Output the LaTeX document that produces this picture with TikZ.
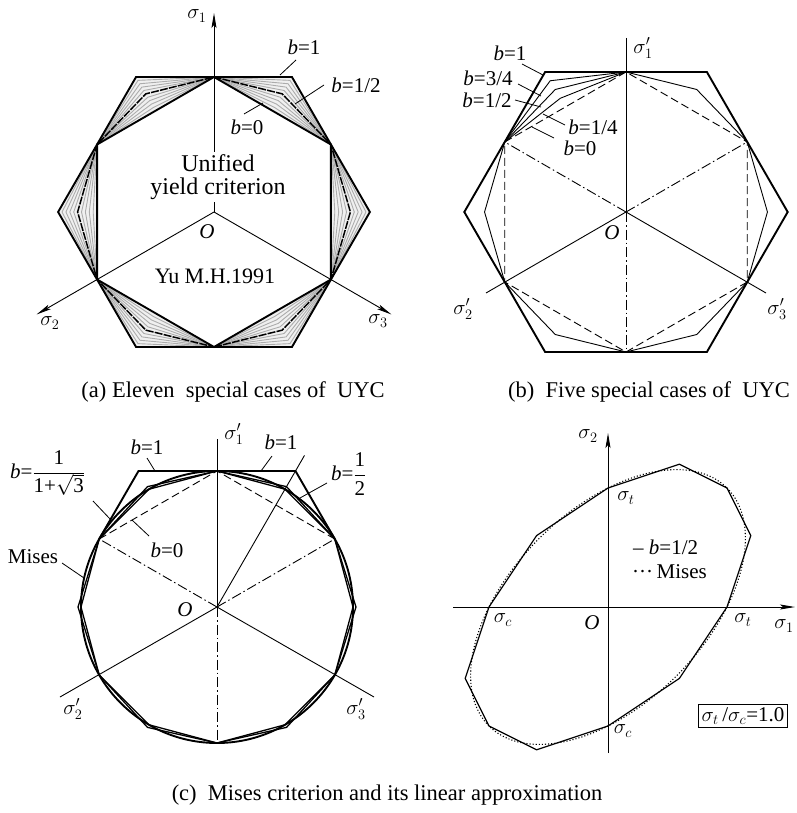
\documentclass[tikz,border=0pt]{standalone}
\usepackage{fontspec}
\setmainfont{Liberation Serif}
\usetikzlibrary{arrows.meta}
\newcommand{\bi}{\textit{b}}
\newcommand{\dodec}[4]{\draw[#1,shift={#2}] (90:#3) -- (60:{#4}) -- (30:#3) -- (0:{#4}) -- (-30:#3) -- (-60:{#4}) -- (-90:#3) -- (-120:{#4}) -- (-150:#3) -- (180:{#4}) -- (150:#3) -- (120:{#4}) -- cycle;}
\newcommand{\hexv}[3]{\draw[#1,shift={#2}] (0:#3) -- (60:#3) -- (120:#3) -- (180:#3) -- (240:#3) -- (300:#3) -- cycle;}
\newcommand{\hext}[3]{\draw[#1,shift={#2}] (90:#3) -- (30:#3) -- (-30:#3) -- (-90:#3) -- (-150:#3) -- (150:#3) -- cycle;}
\begin{document}
\begin{tikzpicture}[x=1pt,y=-1pt,font=\fontsize{21}{24}\selectfont,
  thinl/.style={line width=0.9pt},
  medl/.style={line width=1.3pt},
  thickl/.style={line width=1.9pt},
  ax/.style={line width=0.9pt},
  arr/.style={-{Stealth[length=15pt,width=5pt,inset=3pt]}},
  dashl/.style={line width=0.9pt,dash pattern=on 8pt off 4pt},
  dashdot/.style={line width=0.9pt,dash pattern=on 10pt off 3pt on 1.5pt off 3pt},
  lead/.style={line width=0.8pt},
  lbl/.style={inner sep=0pt},
  captxt/.style={inner sep=0pt,font=\fontsize{22.5}{25}\selectfont}]
\useasboundingbox (0,0) rectangle (796,813);
% ================= panel (a) =================
\coordinate (Oa) at (214,212);
\coordinate (a1) at (214,13);
\coordinate (a2) at (36.5,314.5);
\coordinate (a3) at (391.5,314.5);
\fill[gray!12,even odd rule,shift={(214,212)}] (0:155.9) -- (60:155.9) -- (120:155.9) -- (180:155.9) -- (240:155.9) -- (300:155.9) -- cycle
  (90:135) -- (30:135) -- (-30:135) -- (-90:135) -- (-150:135) -- (150:135) -- cycle;
\foreach \b in {0.1,0.2,0.3,0.4,0.6,0.7,0.8,0.9}{\dodec{line width=0.9pt,gray!65}{(214,212)}{135}{135*(0.8660+0.2887*\b)}}
\dodec{line width=1.5pt,dash pattern=on 8pt off 1.2pt}{(214,212)}{135}{135*(0.8660+0.2887*0.5)}
\hext{thickl}{(214,212)}{135}
\hexv{thickl}{(214,212)}{155.9}
\draw[ax,arr] (Oa) -- (a1);
\draw[ax,arr] (Oa) -- (a2);
\draw[ax,arr] (Oa) -- (a3);
\node[lbl,fill=white,inner sep=2pt,align=center,font=\fontsize{24}{23}\selectfont] (uyc) at (218,177) {Unified\\yield criterion};
\node[lbl] (sa1) at (197,16) {$\sigma_1$};
\node[lbl] (sa2) at (50,323) {$\sigma_2$};
\node[lbl] (sa3) at (378,321) {$\sigma_3$};
\node[lbl] (Oalab) at (207,232) {\textit{O}};
\node[lbl,font=\fontsize{22}{24}\selectfont] (yu) at (215,276) {Yu M.H.1991};
\node[lbl] (ba1) at (304,47) {\bi=1};
\node[lbl] (ba2) at (356,85) {\bi=1/2};
\node[lbl] (ba0) at (247,127) {\bi=0};
\coordinate (la1s) at (280,75); \coordinate (la1e) at (296,60);
\coordinate (la2s) at (295,104); \coordinate (la2e) at (324,85);
\coordinate (la0s) at (263,103); \coordinate (la0e) at (244,114);
\draw[lead] (la1s) -- (la1e);
\draw[lead] (la2s) -- (la2e);
\draw[lead] (la0s) -- (la0e);
\node[captxt] (capa) at (233,392) {(a) Eleven \ special cases of \ UYC};
% ================= panel (b) =================
\coordinate (Ob) at (626,212);
\coordinate (b1) at (626,38);
\coordinate (b2) at (486,293);
\coordinate (b3) at (766,293);
\coordinate (bTL) at (504.8,142);
\coordinate (bTR) at (747.2,142);
\coordinate (bB) at (626,352);
\hexv{thickl}{(626,212)}{161.7}
\hext{dashl}{(626,212)}{140}
\dodec{thinl}{(626,212)}{140}{140*(0.8660+0.2887*0.5)}
\draw[thinl,shift={(626,212)}] (-90:140) -- (-120:{140*(0.8660+0.2887*0.75)}) -- (-150:140);
\draw[thinl,shift={(626,212)}] (-90:140) -- (-120:{140*(0.8660+0.2887*0.25)}) -- (-150:140);
\draw[ax] (b1) -- (Ob);
\draw[ax] (Ob) -- (b2);
\draw[ax] (Ob) -- (b3);
\draw[dashdot] (Ob) -- (bTL);
\draw[dashdot] (Ob) -- (bTR);
\draw[dashdot] (Ob) -- (bB);
\node[lbl] (sb1) at (643,48) {$\sigma'_1$};
\node[lbl] (sb2) at (463,309) {$\sigma'_2$};
\node[lbl] (sb3) at (777,309) {$\sigma'_3$};
\node[lbl] (Oblab) at (612,233) {\textit{O}};
\node[lbl] (bb1) at (510,53) {\bi=1};
\node[lbl] (bb34) at (488,78) {\bi=3/4};
\node[lbl] (bb12) at (487,100) {\bi=1/2};
\node[lbl] (bb14) at (593,127) {\bi=1/4};
\node[lbl] (bb0) at (580,148) {\bi=0};
\coordinate (lb1s) at (522,64); \coordinate (lb1e) at (543,75);
\coordinate (lb34s) at (518,84); \coordinate (lb34e) at (541,96);
\coordinate (lb12s) at (515,100); \coordinate (lb12e) at (541,107);
\coordinate (lb14s) at (543,114); \coordinate (lb14e) at (565,125);
\coordinate (lb0s) at (532,127); \coordinate (lb0e) at (554,138);
\draw[lead] (lb1s) -- (lb1e);
\draw[lead] (lb34s) -- (lb34e);
\draw[lead] (lb12s) -- (lb12e);
\draw[lead] (lb14s) -- (lb14e);
\draw[lead] (lb0s) -- (lb0e);
\node[captxt] (capb) at (649,392) {(b) \ Five special cases of \ UYC};
% ================= panel (c) =================
\coordinate (Oc) at (217,607);
\coordinate (c1) at (217,439);
\coordinate (c2) at (60,697);
\coordinate (c3) at (374,697);
\coordinate (cTL) at (99.2,539);
\coordinate (cTR) at (334.8,539);
\coordinate (cB) at (217,743);
\coordinate (cT) at (217,471);
\coordinate (cT1) at (138.5,471);
\coordinate (cT2) at (295.5,471);
\coordinate (cr) at (304.5,455.4);
\draw[thickl] (Oc) circle[radius=136];
\dodec{medl}{(217,607)}{136}{136}
\dodec{medl}{(217,607)}{136}{136*1.022}
\draw[thickl] (cTL) -- (cT1) -- (cT2) -- (cTR);
\draw[dashl] (cTL) -- (cT) -- (cTR);
\draw[ax] (c1) -- (Oc);
\draw[ax] (Oc) -- (c2);
\draw[ax] (Oc) -- (c3);
\draw[ax] (Oc) -- (cr);
\draw[dashdot] (Oc) -- (cTL);
\draw[dashdot] (Oc) -- (cTR);
\draw[dashdot] (Oc) -- (cB);
\node[lbl] (sc1) at (234,434) {$\sigma'_1$};
\node[lbl] (sc2) at (73,709) {$\sigma'_2$};
\node[lbl] (sc3) at (356,709) {$\sigma'_3$};
\node[lbl] (Oclab) at (185,610) {\textit{O}};
\node[lbl] (bc1) at (147,447) {\bi=1};
\node[lbl] (bc1r) at (281,442) {\bi=1};
\node[lbl,anchor=west] (bcm) at (10,473) {\bi=$\displaystyle\frac{\mbox{1}}{\mbox{1+}\sqrt{\mbox{3}}}$};
\node[lbl,anchor=west] (bch) at (331,474) {\bi=$\displaystyle\frac{\mbox{1}}{\mbox{2}}$};
\node[lbl] (bc0) at (167,550) {\bi=0};
\node[lbl] (mis) at (33,557) {Mises};
\coordinate (lc1s) at (147,458); \coordinate (lc1e) at (155,471);
\coordinate (lc1rs) at (272,456); \coordinate (lc1re) at (261,471);
\coordinate (lcms) at (93,501); \coordinate (lcme) at (111,520);
\coordinate (lc0s) at (149,536); \coordinate (lc0e) at (132,520);
\coordinate (lcMs) at (62,563); \coordinate (lcMe) at (84,578);
\coordinate (lchs) at (327,483); \coordinate (lche) at (300,498);
\draw[lead] (lc1s) -- (lc1e);
\draw[lead] (lc1rs) -- (lc1re);
\draw[lead] (lcms) -- (lcme);
\draw[lead] (lc0s) -- (lc0e);
\draw[lead] (lcMs) -- (lcMe);
\draw[lead] (lchs) -- (lche);
% ================= panel (d) =================
\coordinate (Od) at (608,607);
\coordinate (dx0) at (453,607);
\coordinate (dx1) at (795,607);
\coordinate (dy0) at (608,753);
\coordinate (dy1) at (608,433);
\draw[ax,arr] (dx0) -- (dx1);
\draw[ax,arr] (dy0) -- (dy1);
\begin{scope}[shift={(608,607)},x=119pt,y=119pt]
\draw[line width=1.2pt] (1,0) -- (1.2,0.6) -- (1,1) -- (0.6,1.2) -- (0,1) -- (-0.6,0.6) -- (-1,0) -- (-1.2,-0.6) -- (-1,-1) -- (-0.6,-1.2) -- (0,-1) -- (0.6,-0.6) -- cycle;
\draw[line width=1.1pt,dotted] plot[domain=0:360,samples=140,smooth] ({cos(\x)+sin(\x)/sqrt(3)},{cos(\x)-sin(\x)/sqrt(3)});
\end{scope}
\node[lbl] (sd2) at (588,436) {$\sigma_2$};
\node[lbl] (sd1) at (784,626) {$\sigma_1$};
\node[lbl] (Odlab) at (592,623) {\textit{O}};
\node[lbl] (sdt1) at (626,498) {$\sigma_t$};
\node[lbl] (sdc1) at (503,620) {$\sigma_c$};
\node[lbl] (sdt2) at (743,620) {$\sigma_t$};
\node[lbl] (sdc2) at (623,731) {$\sigma_c$};
\node[lbl,anchor=west] (leg1) at (633,547) {– \bi=1/2};
\node[lbl,anchor=west] (leg2) at (632,572) {···\,Mises};
\node[draw,line width=0.9pt,inner sep=3pt] (ratio) at (743,716) {$\sigma_t$\,/$\sigma_c$=1.0};
\node[captxt] (capc) at (387,795) {(c) \ Mises criterion and its linear approximation};
\end{tikzpicture}
\end{document}
